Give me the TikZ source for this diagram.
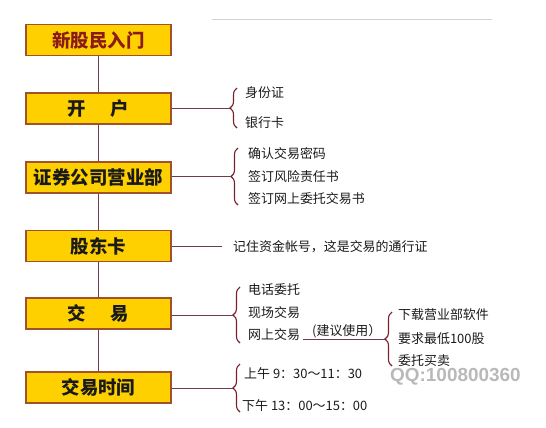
\documentclass[tikz,border=0pt]{standalone}
\usepackage{fontspec}
\setmainfont{Noto Sans CJK SC}
\newfontfamily\qqfont{Liberation Sans}
\usetikzlibrary{decorations.pathreplacing}
\definecolor{boxfill}{HTML}{FFD000}
\definecolor{boxdraw}{HTML}{A0522D}
\definecolor{linec}{HTML}{6E3B4B}
\definecolor{bracec}{HTML}{7B1E2E}
\definecolor{titlec}{HTML}{8B1A1A}
\definecolor{itemc}{HTML}{1A1A1A}
\begin{document}
\begin{tikzpicture}[x=1bp,y=-1bp,
  stepbox/.style={draw=boxdraw, line width=1.2bp, fill=boxfill, minimum width=145bp, minimum height=31bp, inner sep=0, text=itemc, font=\fontsize{18.5}{18.5}\selectfont\bfseries},
  item/.style={anchor=west, inner sep=0, text=itemc, font=\fontsize{13}{13}\selectfont},
  conn/.style={draw=linec, line width=1bp},
  br/.style={draw=bracec, line width=1.1bp, decorate, decoration={brace, amplitude=7bp}}]
\useasboundingbox (0,0) rectangle (546,427);
% top rule
\coordinate (tl1) at (212,19);
\coordinate (tl2) at (492,19);
\draw[gray!35, line width=0.8bp] (tl1) -- (tl2);
% boxes
\node[stepbox, text=titlec] (b1) at (98.5,40) {新股民入门};
\node[stepbox] (b2) at (98.5,108.5) {开\hspace{25bp}户};
\node[stepbox] (b3) at (98.5,177.5) {证券公司营业部};
\node[stepbox] (b4) at (98.5,246) {股东卡};
\node[stepbox] (b5) at (98.5,313.5) {交\hspace{25bp}易};
\node[stepbox] (b6) at (98.5,387.5) {交易时间};
\foreach \a/\b in {b1/b2,b2/b3,b3/b4,b4/b5,b5/b6}
  \draw[conn] (\a.south) -- (\b.north);
% braces (path x, tip at x-7)
\coordinate (t2) at (230,108);
\coordinate (t3) at (231,176.5);
\coordinate (t4) at (222,246);
\coordinate (t5) at (233,315);
\coordinate (t6) at (233,388);
\draw[br] (237,128) -- (237,88);
\draw[br] (238,205) -- (238,148);
\draw[br] (240,343) -- (240,287);
\draw[br] (240,412) -- (240,364);
\draw[br] (392,366) -- (392,312);
\draw[conn] (b2.east |- t2) -- (t2);
\draw[conn] (b3.east |- t3) -- (t3);
\draw[conn] (b4.east |- t4) -- (t4);
\draw[conn] (b5.east |- t5) -- (t5);
\draw[conn] (b6.east |- t6) -- (t6);
% items
\node[item] (i21) at (245,93) {身份证};
\node[item] (i22) at (245,123) {银行卡};
\node[item] (i31) at (248,154) {确认交易密码};
\node[item] (i32) at (248,177) {签订风险责任书};
\node[item] (i33) at (248,199) {签订网上委托交易书};
\node[item] (i41) at (233,247) {记住资金帐号，这是交易的通行证};
\node[item] (i51) at (248,290) {电话委托};
\node[item] (i52) at (248,313) {现场交易};
\node[item] (i53) at (248,335) {网上交易};
\node[item] (jy) at (312,331) {(建议使用）};
\coordinate (t7) at (385,339);
\draw[conn] (i53.east |- t7) ++(3,0) -- (t7);
\node[item] (i71) at (398,315) {下载营业部软件};
\node[item] (i72) at (398,339) {要求最低100股};
\node[item] (i73) at (398,361) {委托买卖};
\node[item] (i61) at (244,374) {上午 9：30～11：30};
\node[item] (i62) at (242,406) {下午 13：00～15：00};
\node[anchor=west, inner sep=0, text=gray!55, font=\qqfont\fontsize{19}{19}\selectfont\bfseries] (qq) at (390,377) {QQ:100800360};
\end{tikzpicture}
\end{document}
